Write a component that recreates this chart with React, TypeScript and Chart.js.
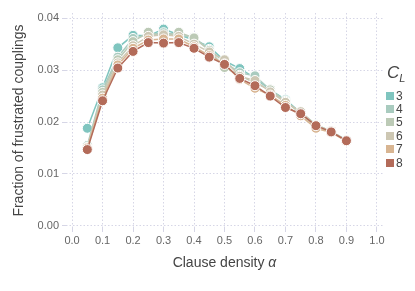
import React, { useEffect, useRef } from "react";
import { Chart, registerables } from "chart.js";

Chart.register(...registerables);

const alphas = [0.05, 0.1, 0.15, 0.2, 0.25, 0.3, 0.35, 0.4, 0.45, 0.5, 0.55, 0.6, 0.65, 0.7, 0.75, 0.8, 0.85, 0.9];
const seriesLabels = ["3", "4", "5", "6", "7", "8"];
const seriesColors = ["#7fc5bf", "#a9cbbf", "#bccab6", "#cdc7b3", "#d8b592", "#b36b59"];
const cl3 = [0.0188, 0.0266, 0.0343, 0.0367, 0.0366, 0.0379, 0.0368, 0.0358, 0.0345, 0.0318, 0.0303, 0.0285, 0.0262, 0.0243, 0.0218, 0.0195, 0.0182, 0.0165];
const cl4 = [0.0155, 0.0262, 0.0325, 0.0361, 0.0368, 0.0372, 0.0368, 0.0363, 0.034, 0.0315, 0.0295, 0.0289, 0.0262, 0.0241, 0.0217, 0.0193, 0.0181, 0.0165];
const cl5 = [0.0152, 0.0257, 0.032, 0.0355, 0.0373, 0.0365, 0.0373, 0.0362, 0.0338, 0.0305, 0.029, 0.0275, 0.0262, 0.024, 0.0216, 0.019, 0.0182, 0.0164];
const cl6 = [0.0151, 0.0252, 0.0314, 0.0347, 0.0365, 0.0368, 0.0365, 0.035, 0.0335, 0.032, 0.0288, 0.028, 0.0258, 0.0238, 0.022, 0.0194, 0.0183, 0.0164];
const cl7 = [0.015, 0.0246, 0.031, 0.0342, 0.0358, 0.036, 0.036, 0.0345, 0.0328, 0.0312, 0.0282, 0.0265, 0.0252, 0.0232, 0.0212, 0.0188, 0.018, 0.0163];
const cl8 = [0.0147, 0.0241, 0.0304, 0.0336, 0.0353, 0.0352, 0.0353, 0.0342, 0.0325, 0.0311, 0.0284, 0.027, 0.025, 0.0228, 0.0216, 0.0193, 0.0181, 0.0164];
const allSeries = [cl3, cl4, cl5, cl6, cl7, cl8];
const xTicks = [0, 0.1, 0.2, 0.3, 0.4, 0.5, 0.6, 0.7, 0.8, 0.9, 1.0];
const yTicks = [0, 0.01, 0.02, 0.03, 0.04];

const FONT = "'Liberation Sans', Arial, sans-serif";
const GRID = "#d6d6e6";

const xTitlePlugin = {
  id: "xTitle",
  afterDraw(chart: any) {
    const ctx = chart.ctx;
    const area = chart.chartArea;
    const cx = (area.left + area.right) / 2;
    const y = 263;
    ctx.save();
    ctx.fillStyle = "#444";
    ctx.textBaseline = "middle";
    const a = "Clause density ";
    const b = "α";
    ctx.font = `14px ${FONT}`;
    const wa = ctx.measureText(a).width;
    ctx.font = `italic 14px ${FONT}`;
    const wb = ctx.measureText(b).width;
    const start = cx - (wa + wb) / 2;
    ctx.font = `14px ${FONT}`;
    ctx.textAlign = "left";
    ctx.fillText(a, start, y);
    ctx.font = `italic 14px ${FONT}`;
    ctx.fillText(b, start + wa, y);
    ctx.restore();
  },
};

export default function App() {
  const ref = useRef<HTMLCanvasElement>(null);
  useEffect(() => {
    if (!ref.current) return;
    const chart = new Chart(ref.current, {
      type: "line",
      data: {
        datasets: allSeries.map((vals, i) => ({
          label: seriesLabels[i],
          data: alphas.map((a, j) => ({ x: a, y: vals[j] })),
          borderColor: seriesColors[i],
          backgroundColor: seriesColors[i],
          pointBackgroundColor: seriesColors[i],
          pointBorderColor: "#ffffff",
          pointBorderWidth: 1,
          pointRadius: 5,
          borderWidth: 1.5,
          tension: 0,
          order: allSeries.length - i,
        })),
      },
      options: {
        animation: false,
        responsive: false,
        maintainAspectRatio: false,
        layout: { padding: { top: 13, right: 32, left: 0, bottom: 0 } },
        plugins: { legend: { display: false }, tooltip: { enabled: false } },
        scales: {
          x: {
            type: "linear",
            min: -0.02,
            max: 1.02,
            afterBuildTicks: (s: any) => {
              s.ticks = xTicks.map((v) => ({ value: v }));
            },
            afterFit: (s: any) => {
              s.height = 63;
            },
            border: { display: false, dash: [1.5, 2] },
            grid: { color: GRID, tickLength: 4, tickColor: GRID },
            ticks: {
              color: "#666",
              font: { family: FONT, size: 11 },
              callback: (v: any) => Number(v).toFixed(1),
              padding: 2,
              maxRotation: 0,
            },
          },
          y: {
            type: "linear",
            min: -0.0004,
            max: 0.041,
            afterBuildTicks: (s: any) => {
              s.ticks = yTicks.map((v) => ({ value: v }));
            },
            afterFit: (s: any) => {
              s.width = 66;
            },
            border: { display: false, dash: [1.5, 2] },
            grid: { color: GRID, tickLength: 4, tickColor: GRID },
            ticks: {
              color: "#666",
              font: { family: FONT, size: 11 },
              callback: (v: any) => Number(v).toFixed(2),
              padding: 3,
            },
            title: {
              display: true,
              text: "Fraction of frustrated couplings",
              color: "#444",
              font: { family: FONT, size: 14 },
              padding: { top: 11, bottom: 0 },
            },
          },
        },
      },
      plugins: [xTitlePlugin],
    } as any);
    return () => chart.destroy();
  }, []);

  return (
    <div style={{ position: "fixed", left: 0, top: 0, width: 415, height: 291, background: "#fff" }}>
      <canvas ref={ref} width={415} height={291} style={{ width: 415, height: 291, display: "block" }} />
      <div style={{ position: "absolute", left: 386, top: 62, fontFamily: FONT, color: "#444" }}>
        <div style={{ fontSize: 17, fontStyle: "italic", lineHeight: "22px", marginLeft: 1 }}>
          C<sub style={{ fontSize: 11, verticalAlign: "-4px" }}>L</sub>
        </div>
        <div style={{ marginTop: 0 }}>
          {seriesLabels.map((l, i) => (
            <div key={l} style={{ display: "flex", alignItems: "center", height: 13.4, fontSize: 12 }}>
              <span style={{ display: "inline-block", width: 8, height: 8, background: seriesColors[i], marginRight: 2 }} />
              <span>{l}</span>
            </div>
          ))}
        </div>
      </div>
    </div>
  );
}
